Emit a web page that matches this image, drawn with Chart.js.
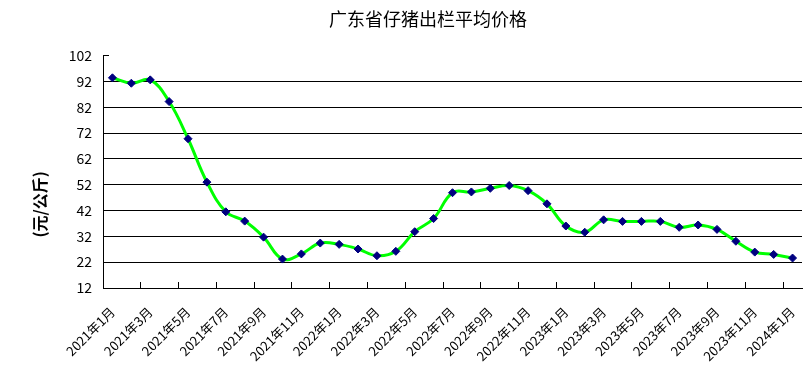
<!DOCTYPE html>
<html>
<head>
<meta charset="utf-8">
<script src="https://cdn.jsdelivr.net/npm/chart.js@4/dist/chart.umd.min.js"></script>
<style>
html,body{margin:0;padding:0;background:#fff;}
#wrap{width:810px;height:385px;position:relative;}
</style>
</head>
<body>
<div id="wrap"><canvas id="c" width="810" height="385"></canvas></div>
<script>
const chartTitle = '广东省仔猪出栏平均价格';
const yAxisTitle = '(元/公斤)';
const categories = [
  '2021年1月','2021年2月','2021年3月','2021年4月','2021年5月','2021年6月','2021年7月','2021年8月','2021年9月','2021年10月','2021年11月','2021年12月',
  '2022年1月','2022年2月','2022年3月','2022年4月','2022年5月','2022年6月','2022年7月','2022年8月','2022年9月','2022年10月','2022年11月','2022年12月',
  '2023年1月','2023年2月','2023年3月','2023年4月','2023年5月','2023年6月','2023年7月','2023年8月','2023年9月','2023年10月','2023年11月','2023年12月',
  '2024年1月'
];
const prices = [
  93.4, 91.3, 92.6, 84.2, 69.8, 53.0, 41.5, 37.9, 31.7, 23.2, 25.2, 29.4,
  28.9, 27.1, 24.5, 26.2, 33.8, 38.9, 48.9, 49.2, 50.6, 51.7, 49.7, 44.6,
  36.0, 33.6, 38.4, 37.8, 37.8, 37.8, 35.5, 36.4, 34.7, 30.1, 25.9, 25.0,
  23.6
];
const yTicks = [12, 22, 32, 42, 52, 62, 72, 82, 92, 102];

const FONT = '"Noto Sans CJK SC", "Liberation Sans", sans-serif';

const yTitlePlugin = {
  id: 'yTitle',
  afterDraw(chart) {
    const ctx = chart.ctx;
    const a = chart.chartArea;
    ctx.save();
    ctx.translate(a.left - 63, a.top + (a.bottom - a.top) * 0.64);
    ctx.rotate(-Math.PI / 2);
    ctx.font = 'bold 16px ' + FONT;
    ctx.fillStyle = '#000';
    ctx.textAlign = 'center';
    ctx.textBaseline = 'middle';
    ctx.fillText(yAxisTitle, 0, 0);
    ctx.restore();
  }
};

new Chart(document.getElementById('c'), {
  type: 'line',
  data: {
    labels: categories,
    datasets: [{
      data: prices,
      borderColor: '#00ff00',
      borderWidth: 3,
      tension: 0.4,
      pointStyle: 'rectRot',
      pointRadius: 4,
      pointBackgroundColor: '#000080',
      pointBorderColor: '#000080',
      pointBorderWidth: 1,
      fill: false
    }]
  },
  options: {
    responsive: false,
    animation: false,
    devicePixelRatio: 1,
    layout: { padding: { left: 54, right: 8, top: 8, bottom: 0 } },
    plugins: {
      legend: { display: false },
      tooltip: { enabled: false },
      title: {
        display: true,
        text: chartTitle,
        color: '#000',
        font: { family: FONT, size: 18, weight: 'normal' },
        padding: { top: 0, bottom: 26 }
      }
    },
    scales: {
      x: {
        type: 'category',
        offset: true,
        grid: {
          offset: true,
          drawOnChartArea: false,
          drawTicks: true,
          tickLength: -6,
          color: (ctx) => (ctx.index !== undefined && ctx.index % 2 === 0) ? '#000' : 'rgba(0,0,0,0)',
          lineWidth: 1
        },
        border: { display: true, color: '#000', width: 1 },
        ticks: {
          autoSkip: false,
          minRotation: 45,
          maxRotation: 45,
          padding: 22,
          color: '#000',
          font: { family: FONT, size: 13 },
          callback: function(value, index) { return index % 2 === 0 ? categories[index] : ''; }
        },
        afterFit: (s) => { s.height = 97; s.paddingRight = 0; s.paddingLeft = 0; }
      },
      y: {
        min: 12,
        max: 102,
        afterBuildTicks: (s) => { s.ticks = yTicks.map(v => ({ value: v })); },
        grid: {
          color: (ctx) => (ctx.tick && ctx.tick.value === 102) ? 'rgba(0,0,0,0)' : '#000',
          tickColor: '#000',
          tickLength: -6,
          lineWidth: 1
        },
        border: { display: true, color: '#000', width: 1 },
        ticks: {
          padding: 17,
          color: '#000',
          font: { family: FONT, size: 14 }
        },
        afterFit: (s) => { s.width = 49; }
      }
    }
  },
  plugins: [yTitlePlugin]
});
</script>
</body>
</html>
